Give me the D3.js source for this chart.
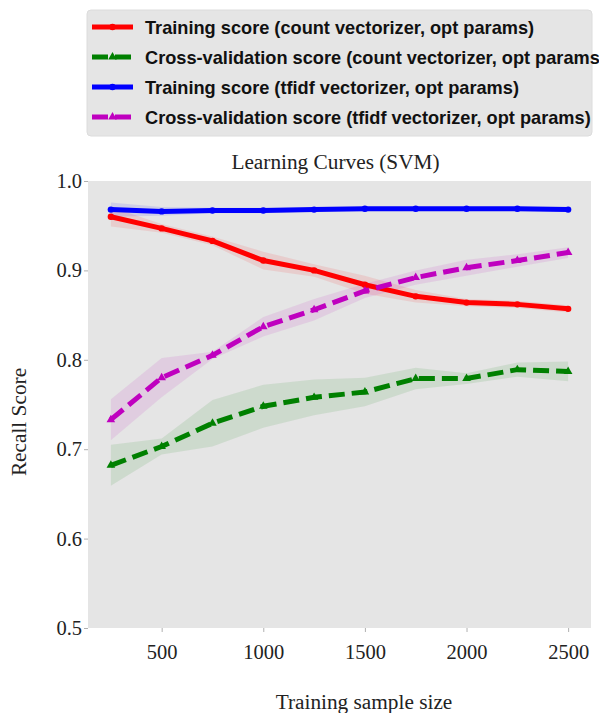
<!DOCTYPE html>
<html>
<head>
<meta charset="utf-8">
<script src="https://cdn.jsdelivr.net/npm/d3@7"></script>
<style>
  html, body { margin: 0; padding: 0; background: #ffffff; }
  svg { display: block; }
</style>
</head>
<body>
<svg id="chart" width="599" height="713"></svg>
<script>
// Training set sizes used for each learning-curve step
const trainSizes = [250, 500, 750, 1000, 1250, 1500, 1750, 2000, 2250, 2500];

// Mean recall scores and their spread (std) per training size
const countTrainMean = [0.960, 0.947, 0.933, 0.911, 0.900, 0.884, 0.871, 0.864, 0.862, 0.857];
const countTrainStd  = [0.011, 0.005, 0.005, 0.010, 0.007, 0.010, 0.007, 0.004, 0.004, 0.004];

const countCvMean = [0.682, 0.703, 0.729, 0.748, 0.758, 0.764, 0.779, 0.779, 0.789, 0.787];
const countCvStd  = [0.023, 0.009, 0.026, 0.024, 0.020, 0.016, 0.012, 0.006, 0.008, 0.011];

const tfidfTrainMean = [0.968, 0.966, 0.967, 0.967, 0.968, 0.969, 0.969, 0.969, 0.969, 0.968];
const tfidfTrainStd  = [0.008, 0.005, 0.003, 0.003, 0.002, 0.002, 0.002, 0.002, 0.002, 0.002];

const tfidfCvMean = [0.733, 0.780, 0.805, 0.837, 0.856, 0.877, 0.892, 0.903, 0.911, 0.920];
const tfidfCvStd  = [0.023, 0.022, 0.004, 0.011, 0.012, 0.008, 0.008, 0.009, 0.007, 0.006];

const seriesLabels = [
  "Training score (count vectorizer, opt params)",
  "Cross-validation score (count vectorizer, opt params)",
  "Training score (tfidf vectorizer, opt params)",
  "Cross-validation score (tfidf vectorizer, opt params)"
];

const xTicks = [500, 1000, 1500, 2000, 2500];
const yTicks = [0.5, 0.6, 0.7, 0.8, 0.9, 1.0];

const series = [
  { label: seriesLabels[0], mean: countTrainMean, std: countTrainStd, color: "#ff0000", dashed: false, marker: "circle" },
  { label: seriesLabels[1], mean: countCvMean,    std: countCvStd,    color: "#008000", dashed: true,  marker: "triangle" },
  { label: seriesLabels[2], mean: tfidfTrainMean, std: tfidfTrainStd, color: "#0000ff", dashed: false, marker: "circle" },
  { label: seriesLabels[3], mean: tfidfCvMean,    std: tfidfCvStd,    color: "#bf00bf", dashed: true,  marker: "triangle" }
];

const svg = d3.select("#chart");
const plot = { left: 88, right: 591, top: 181, bottom: 628 };

const x = d3.scaleLinear().domain([137.5, 2612.5]).range([plot.left, plot.right]);
const y = d3.scaleLinear().domain([0.5, 1.0]).range([plot.bottom, plot.top]);

const serif = "'Liberation Serif', 'Times New Roman', serif";
const sans = "'Liberation Sans', Arial, sans-serif";

// Axes background
svg.append("rect")
  .attr("x", plot.left).attr("y", plot.top)
  .attr("width", plot.right - plot.left).attr("height", plot.bottom - plot.top)
  .attr("fill", "#e5e5e5");

// Axes
const xAxis = svg.append("g")
  .attr("transform", `translate(0,${plot.bottom})`)
  .call(d3.axisBottom(x).tickValues(xTicks).tickSize(4).tickPadding(12).tickFormat(d3.format("d")));
const yAxis = svg.append("g")
  .attr("transform", `translate(${plot.left},0)`)
  .call(d3.axisLeft(y).tickValues(yTicks).tickSize(4).tickPadding(2).tickFormat(d3.format(".1f")));

[xAxis, yAxis].forEach(g => {
  g.select(".domain").remove();
  g.selectAll(".tick line").attr("stroke", "#b0b0b0").attr("stroke-width", 1);
  g.selectAll(".tick text")
    .attr("fill", "#222")
    .style("font-family", serif)
    .style("font-size", "20.5px");
});

// Bands, then lines and markers
const area = d3.area()
  .x((d, i) => x(trainSizes[i]))
  .y0(d => y(d[0] - d[1]))
  .y1(d => y(d[0] + d[1]));
const line = d3.line()
  .x((d, i) => x(trainSizes[i]))
  .y(d => y(d));

const drawOrder = [2, 0, 1, 3];
const triangle = d3.symbol().type(d3.symbolTriangle).size(32);

drawOrder.forEach(k => {
  const s = series[k];
  svg.append("path")
    .datum(s.mean.map((m, i) => [m, s.std[i]]))
    .attr("d", area)
    .attr("fill", s.color)
    .attr("fill-opacity", 0.1);
});

drawOrder.forEach(k => {
  const s = series[k];
  svg.append("path")
    .datum(s.mean)
    .attr("d", line)
    .attr("fill", "none")
    .attr("stroke", s.color)
    .attr("stroke-width", 5)
    .attr("stroke-dasharray", s.dashed ? "16,7" : null);
  const pts = svg.append("g");
  s.mean.forEach((m, i) => {
    if (s.marker === "circle") {
      pts.append("circle")
        .attr("cx", x(trainSizes[i])).attr("cy", y(m)).attr("r", 3.2)
        .attr("fill", s.color);
    } else {
      pts.append("path")
        .attr("d", triangle)
        .attr("transform", `translate(${x(trainSizes[i])},${y(m)})`)
        .attr("fill", s.color);
    }
  });
});

// Title and axis labels
svg.append("text")
  .attr("x", 335.5).attr("y", 169)
  .attr("text-anchor", "middle")
  .style("font-family", serif).style("font-size", "21.3px").attr("fill", "#222")
  .text("Learning Curves (SVM)");

svg.append("text")
  .attr("x", 364).attr("y", 709)
  .attr("text-anchor", "middle")
  .style("font-family", serif).style("font-size", "21.3px").attr("fill", "#222")
  .text("Training sample size");

svg.append("text")
  .attr("transform", "translate(26,422) rotate(-90)")
  .attr("text-anchor", "middle")
  .style("font-family", serif).style("font-size", "21.3px").attr("fill", "#222")
  .text("Recall Score");

// Legend
const legend = svg.append("g");
legend.append("rect")
  .attr("x", 87).attr("y", 10).attr("width", 505).attr("height", 126).attr("rx", 4)
  .attr("fill", "#e5e5e5").attr("stroke", "#dcdcdc");

series.forEach((s, i) => {
  const cy = 27 + i * 30;
  legend.append("line")
    .attr("x1", 92).attr("x2", 133).attr("y1", cy).attr("y2", cy)
    .attr("stroke", s.color).attr("stroke-width", 5)
    .attr("stroke-dasharray", s.dashed ? "16,7" : null);
  if (s.marker === "circle") {
    legend.append("circle").attr("cx", 112.5).attr("cy", cy).attr("r", 3.2).attr("fill", s.color);
  } else {
    legend.append("path").attr("d", triangle)
      .attr("transform", `translate(112.5,${cy})`).attr("fill", s.color);
  }
  legend.append("text")
    .attr("x", 145).attr("y", cy + 6.5)
    .style("font-family", sans).style("font-size", "18.2px").style("font-weight", "bold")
    .attr("fill", "#111")
    .text(s.label);
});
</script>
</body>
</html>
